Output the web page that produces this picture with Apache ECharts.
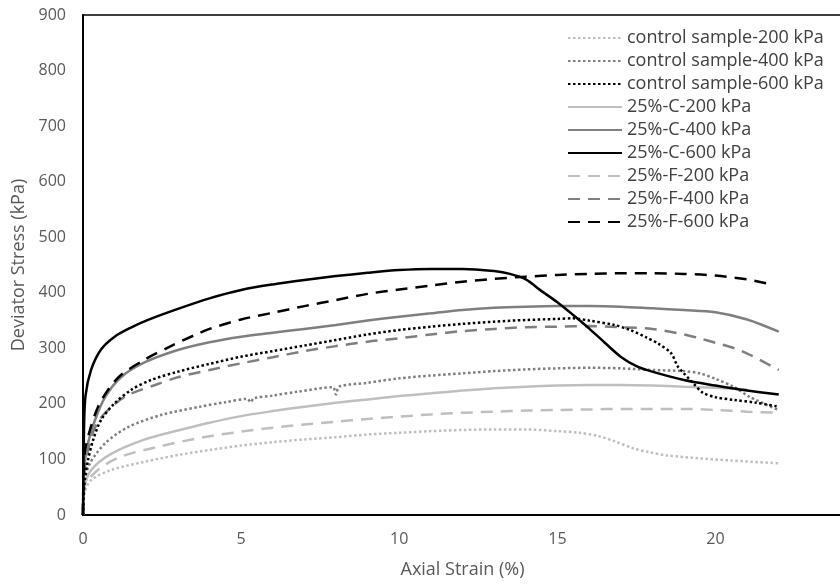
<!DOCTYPE html>
<html>
<head>
<meta charset="utf-8">
<script src="https://cdn.jsdelivr.net/npm/echarts@6/dist/echarts.min.js"></script>
<style>
  html, body { margin: 0; padding: 0; background: #fff; }
  #chart { width: 840px; height: 586px; }
</style>
</head>
<body>
<div id="chart"></div>
<script>
// [axial strain %, deviator stress kPa]
const control200 = [[0,0],[0.05,40],[0.26,63],[0.89,81],[1.96,96],[3,108],[4,117],[5,125],[6,131],[7,136],[8,140],[9,145],[10,148],[11,151],[12,153],[13,154],[14,154],[15,151],[15.7,148],[16.3,142],[16.8,133],[17.4,120],[17.9,113],[18.5,107],[19.5,102],[20.5,98],[22,93]];
const control400 = [[0,0],[0.05,60],[0.22,93],[0.7,129],[1.42,158],[2.47,180],[3.7,195],[4.5,203],[5.2,209],[5.3,203],[5.4,210],[6,215],[6.8,222],[7.9,230],[8,217],[8.1,231],[9,238],[10,246],[11,251],[12,255],[13,259],[14,262],[15,264],[16,265],[17,264],[18,261],[19,259],[19.5,255],[20,245],[20.6,230],[21.1,212],[22,189]];
const control600 = [[0,0],[0.05,60],[0.16,99],[0.32,135],[0.57,171],[1,201],[1.52,225],[2.15,243],[3,258],[4,272],[5,285],[6,295],[7,305],[8,315],[9,325],[10,333],[11,339],[12,344],[13,348],[14,351],[15,353],[15.5,354],[16,350],[16.8,342],[17.3,333],[17.8,320],[18.2,308],[18.6,291],[18.8,268],[19,255],[19.3,237],[19.6,220],[20,212],[20.6,207],[21.3,202],[22,195]];
const c200 = [[0,0],[0.05,50],[0.26,81],[0.89,110],[1.96,136],[3,152],[4,166],[5,178],[6,187],[7,195],[8,202],[9,208],[10,214],[11,219],[12,224],[13,228],[14,231],[15,233],[16,234],[17,234],[18,233],[19,231],[20,229],[21,226]];
const c400 = [[0,0],[0.05,90],[0.16,130],[0.38,171],[0.7,212],[1.2,248],[1.96,275],[3,297],[4,311],[5,321],[6,328],[7,335],[8,342],[9,350],[10,357],[11,363],[12,369],[13,373],[14,375],[15,376],[16,376],[17,375],[18,372],[19,369],[20,365],[21,352],[22,330]];
const c600 = [[0,0],[0.03,150],[0.08,215],[0.26,262],[0.57,298],[1,321],[1.5,337],[2,350],[3,371],[4,390],[5,405],[6,415],[7,423],[8,430],[9,436],[10,441],[11,443],[12,443],[13,439],[13.5,434],[14,424],[14.5,403],[15,383],[15.5,360],[16,336],[16.5,310],[17,285],[17.5,268],[18,258],[19,243],[20,233],[21,224],[22,217]];
const f200 = [[0,0],[0.05,50],[0.47,81],[1.2,105],[2.47,124],[3.9,141],[5,150],[6,157],[7,163],[8,168],[9,173],[10,177],[11,181],[12,184],[13,186],[14,188],[15,189],[16,190],[17,191],[18,191],[19,191],[20,189],[21,186],[22,184]];
const f400 = [[0,0],[0.05,80],[0.26,140],[0.5,170],[0.89,194],[1.42,216],[2.28,234],[3,248],[4,261],[5,273],[6,284],[7,295],[8,304],[9,312],[10,318],[11,325],[12,331],[13,335],[14,338],[15,339],[16,340],[17,338],[18,335],[19,325],[19.5,318],[20,310],[20.6,300],[21.1,288],[22,261]];
const f600 = [[0,0],[0.05,110],[0.22,153],[0.47,194],[0.79,225],[1.2,252],[1.96,280],[2.78,304],[3.5,323],[4,335],[5,352],[6,364],[7,376],[8,387],[9,398],[10,406],[11,413],[12,420],[13,425],[14,429],[15,432],[16,434],[17,435],[18,435],[19,434],[20,431],[21,424],[21.6,417]];

const seriesNames = [
  'control sample-200 kPa', 'control sample-400 kPa', 'control sample-600 kPa',
  '25%-C-200 kPa', '25%-C-400 kPa', '25%-C-600 kPa',
  '25%-F-200 kPa', '25%-F-400 kPa', '25%-F-600 kPa'
];
const seriesData = [control200, control400, control600, c200, c400, c600, f200, f400, f600];

const LIGHT = '#bfbfbf', MID = '#7f7f7f', DARK = '#000000';
const colors = [LIGHT, MID, DARK, LIGHT, MID, DARK, LIGHT, MID, DARK];
const dotted = [2.5, 2.5];
const dashed = [12, 8];
const lineTypes = [dotted, dotted, dotted, 'solid', 'solid', 'solid', dashed, dashed, dashed];

const font = '"Open Sans", sans-serif';

const chart = echarts.init(document.getElementById('chart'));
chart.setOption({
  animation: false,
  backgroundColor: '#fff',
  grid: {
    left: 83, top: 15, right: -2, bottom: 71,
    outerBoundsMode: 'none',
    show: true, borderColor: '#000', borderWidth: 1.5
  },
  legend: {
    orient: 'vertical',
    left: 562, top: 24,
    itemWidth: 54, itemHeight: 14, itemGap: 5,
    itemStyle: { opacity: 0 },
    textStyle: { fontFamily: font, fontSize: 18, lineHeight: 16, color: '#404040' },
    data: seriesNames
  },
  xAxis: {
    type: 'value', min: 0, max: 24, interval: 5,
    name: 'Axial Strain (%)', nameLocation: 'middle', nameGap: 46,
    nameTextStyle: { fontFamily: font, fontSize: 18, color: '#595959' },
    axisLine: { lineStyle: { color: '#000', width: 2 } },
    axisTick: { show: false },
    splitLine: { show: false },
    axisLabel: { fontFamily: font, fontSize: 16, color: '#595959', margin: 16, showMaxLabel: false }
  },
  yAxis: {
    type: 'value', min: 0, max: 900, interval: 100,
    name: 'Deviator Stress (kPa)', nameLocation: 'middle', nameGap: 52,
    nameTextStyle: { fontFamily: font, fontSize: 18, color: '#595959' },
    axisLine: { show: true, lineStyle: { color: '#000', width: 2 } },
    axisTick: { show: false },
    splitLine: { show: false },
    axisLabel: { fontFamily: font, fontSize: 16, color: '#595959', margin: 17 }
  },
  series: seriesNames.map((name, i) => ({
    name: name,
    type: 'line',
    data: seriesData[i],
    symbol: 'none',
    smooth: 0.3,
    color: colors[i],
    lineStyle: { color: colors[i], width: 2.5, type: lineTypes[i] },
    z: 2 + (i % 3)
  }))
});
</script>
</body>
</html>
